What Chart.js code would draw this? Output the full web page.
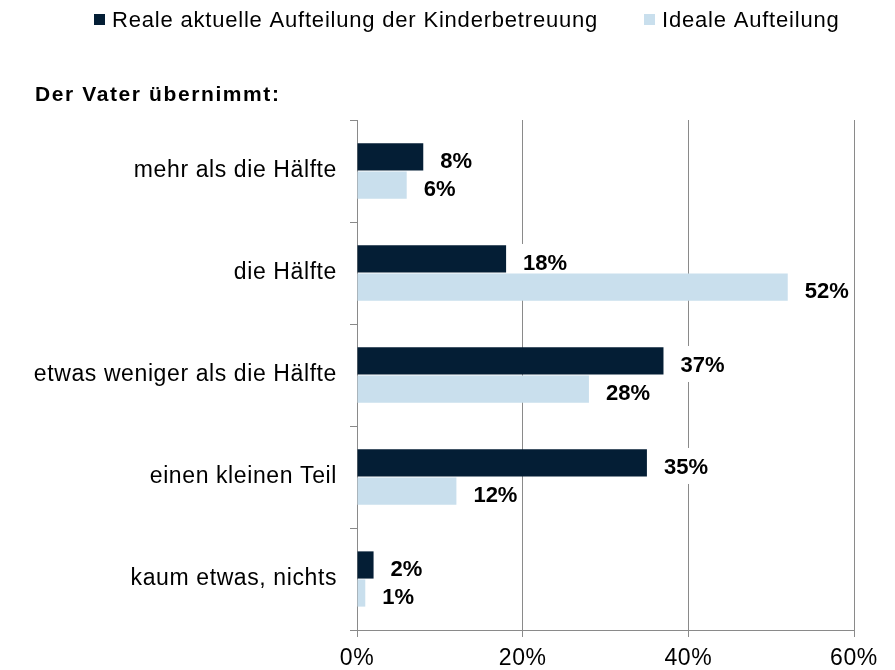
<!DOCTYPE html>
<html>
<head>
<meta charset="utf-8">
<script src="https://cdn.jsdelivr.net/npm/chart.js@4/dist/chart.umd.min.js"></script>
<style>
  html, body { margin: 0; padding: 0; background: #fff; }
  canvas { display: block; }
</style>
</head>
<body>
<canvas id="chart" width="895" height="670"></canvas>
<script>
// Chart data
const categories = ["mehr als die Hälfte", "die Hälfte", "etwas weniger als die Hälfte", "einen kleinen Teil", "kaum etwas, nichts"]
const realValues = [8, 18, 37, 35, 2]
const idealValues = [6, 52, 28, 12, 1]
const seriesLabels = ["Reale aktuelle Aufteilung der Kinderbetreuung", "Ideale Aufteilung"]
const xTicks = [0, 20, 40, 60]
const chartTitle = "Der Vater übernimmt:"

const darkBlue = "#041e35"
const lightBlue = "#c9dfed"
const axisGray = "#8a8a8a"
const fontFamily = "'Liberation Sans', Arial, sans-serif"

// Legend and title drawn by hand so they sit where the original has them
const headerPlugin = {
  id: "header",
  beforeDraw(chart) {
    chart.ctx.letterSpacing = "0.6px" // original text is slightly wide
  },
  afterDraw(chart) {
    const ctx = chart.ctx
    ctx.save()
    ctx.textBaseline = "alphabetic"
    ctx.textAlign = "left"

    // legend
    ctx.font = `22px ${fontFamily}`
    ctx.letterSpacing = "0.8px"
    const legendX = [94, 644]
    chart.data.datasets.forEach((ds, i) => {
      ctx.fillStyle = ds.backgroundColor
      ctx.fillRect(legendX[i], 14, 11, 11)
      ctx.fillStyle = "#000"
      ctx.fillText(ds.label, legendX[i] + 18, 27)
    })

    // title
    ctx.font = `bold 21px ${fontFamily}`
    ctx.letterSpacing = "1.6px"
    ctx.fillStyle = "#000"
    ctx.fillText(chartTitle, 35, 101)
    ctx.restore()
  },
}

// Value labels at the end of each bar, on a white box that hides the grid
const valueLabelPlugin = {
  id: "valueLabels",
  labelBoxes(chart) {
    const ctx = chart.ctx
    const boxes = []
    ctx.save()
    ctx.font = `bold 22px ${fontFamily}`
    ctx.letterSpacing = "0px"
    chart.data.datasets.forEach((ds, di) => {
      chart.getDatasetMeta(di).data.forEach((bar, i) => {
        const text = ds.data[i] + "%"
        const w = ctx.measureText(text).width
        boxes.push({ text, x: bar.x + 17, y: bar.y, w })
      })
    })
    ctx.restore()
    return boxes
  },
  beforeDatasetsDraw(chart) {
    const ctx = chart.ctx
    ctx.save()
    ctx.fillStyle = "#fff"
    this.labelBoxes(chart).forEach((b) => {
      ctx.fillRect(b.x - 3, b.y + 3 - 18, b.w + 6, 36)
    })
    ctx.restore()
  },
  afterDatasetsDraw(chart) {
    const ctx = chart.ctx
    ctx.save()
    ctx.font = `bold 22px ${fontFamily}`
    ctx.letterSpacing = "0px"
    ctx.fillStyle = "#000"
    ctx.textAlign = "left"
    ctx.textBaseline = "alphabetic"
    this.labelBoxes(chart).forEach((b) => {
      ctx.fillText(b.text, b.x, b.y + 11)
    })
    ctx.restore()
  },
}

new Chart(document.getElementById("chart"), {
  type: "bar",
  data: {
    labels: categories,
    datasets: [
      {
        label: seriesLabels[0],
        data: realValues,
        backgroundColor: darkBlue,
        categoryPercentage: 0.55,
        barPercentage: 0.97,
      },
      {
        label: seriesLabels[1],
        data: idealValues,
        backgroundColor: lightBlue,
        categoryPercentage: 0.55,
        barPercentage: 0.97,
      },
    ],
  },
  options: {
    indexAxis: "y",
    responsive: false,
    animation: false,
    events: [],
    layout: {
      padding: { top: 120, right: 41, bottom: 0, left: 0 },
    },
    plugins: {
      legend: { display: false },
      tooltip: { enabled: false },
    },
    scales: {
      x: {
        min: 0,
        max: 60,
        afterFit: (scale) => { scale.height = 40 },
        afterBuildTicks: (scale) => { scale.ticks = xTicks.map((v) => ({ value: v })) },
        ticks: {
          callback: (v) => v + "%",
          color: "#000",
          padding: 8,
          font: { family: fontFamily, size: 23 },
        },
        grid: {
          color: axisGray,
          lineWidth: 1,
          tickLength: 7,
        },
        border: { color: axisGray },
      },
      y: {
        afterFit: (scale) => { scale.width = 357 },
        ticks: {
          color: "#000",
          padding: 13,
          font: { family: fontFamily, size: 23 },
        },
        grid: {
          drawOnChartArea: false,
          color: axisGray,
          tickLength: 7,
        },
        border: { color: axisGray },
      },
    },
  },
  plugins: [headerPlugin, valueLabelPlugin],
})
</script>
</body>
</html>
